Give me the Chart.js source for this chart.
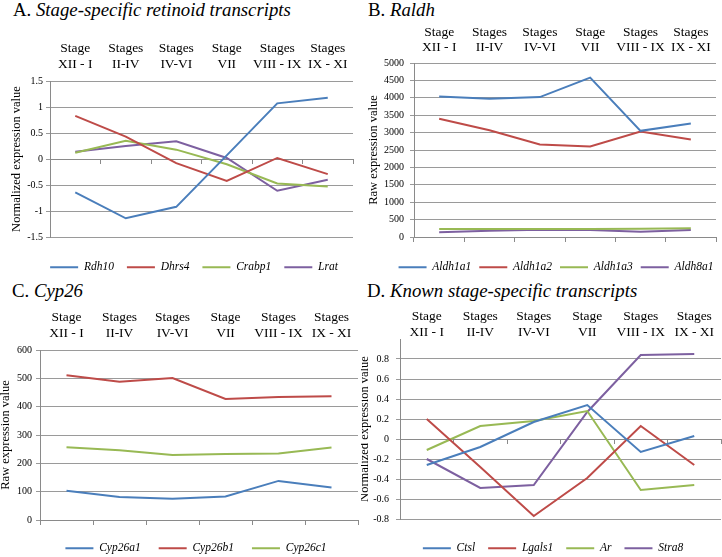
<!DOCTYPE html>
<html>
<head>
<meta charset="utf-8">
<script src="https://cdn.jsdelivr.net/npm/chart.js@4.4.0/dist/chart.umd.min.js"></script>
<style>
html,body{margin:0;padding:0;background:#fff;overflow:hidden;width:722px;height:557px;position:relative;}
canvas{position:absolute;}
.ttl{position:absolute;font-family:"Liberation Serif","Times New Roman",serif;font-size:18.8px;line-height:20px;color:#000;white-space:nowrap;}
.ttl i{font-style:italic;}
.pre{position:absolute;left:-1000px;top:0;font-family:"Liberation Serif";}
</style>
</head>
<body>
<div class="pre">a <i>a</i></div>
<div class="ttl" style="left:13px;top:0px">A. <i>Stage-specific retinoid transcripts</i></div>
<div class="ttl" style="left:368px;top:0px">B. <i>Raldh</i></div>
<div class="ttl" style="left:12px;top:281px">C. <i>Cyp26</i></div>
<div class="ttl" style="left:367px;top:281px">D. <i>Known stage-specific transcripts</i></div>
<canvas id="cA" width="361" height="283" style="left:0px;top:0px"></canvas>
<canvas id="cB" width="361" height="283" style="left:361px;top:0px"></canvas>
<canvas id="cC" width="366" height="294" style="left:0px;top:270px"></canvas>
<canvas id="cD" width="361" height="294" style="left:361px;top:270px"></canvas>
<script>
// ---- categories (shared by all panels) ----
const stageLabels = [["Stage","XII - I"],["Stages","II-IV"],["Stages","IV-VI"],["Stage","VII"],["Stages","VIII - IX"],["Stages","IX - XI"]];

// ---- Panel A: Stage-specific retinoid transcripts (normalized) ----
const namesA = ["Rdh10","Dhrs4","Crabp1","Lrat"];
const rdh10  = [-0.64, -1.14, -0.92, 0.07, 1.07, 1.18];
const dhrs4  = [0.83, 0.43, -0.08, -0.42, 0.02, -0.29];
const crabp1 = [0.12, 0.35, 0.18, -0.10, -0.47, -0.53];
const lrat   = [0.14, 0.25, 0.34, 0.02, -0.61, -0.40];

// ---- Panel B: Raldh (raw) ----
const namesB = ["Aldh1a1","Aldh1a2","Aldh1a3","Aldh8a1"];
const aldh1a1 = [4040, 3970, 4020, 4580, 3050, 3260];
const aldh1a2 = [3400, 3070, 2660, 2600, 3030, 2800];
const aldh1a3 = [230, 230, 230, 230, 240, 250];
const aldh8a1 = [140, 180, 210, 200, 150, 200];

// ---- Panel C: Cyp26 (raw) ----
const namesC = ["Cyp26a1","Cyp26b1","Cyp26c1"];
const cyp26a1 = [103, 81, 75, 83, 138, 115];
const cyp26b1 = [511, 488, 501, 427, 434, 437];
const cyp26c1 = [257, 246, 229, 233, 235, 256];

// ---- Panel D: Known stage-specific transcripts (normalized) ----
const namesD = ["Ctsl","Lgals1","Ar","Stra8"];
const ctsl   = [-0.26, -0.08, 0.17, 0.34, -0.13, 0.03];
const lgals1 = [0.20, -0.28, -0.77, -0.39, 0.13, -0.26];
const ar     = [-0.11, 0.13, 0.18, 0.28, -0.51, -0.46];
const stra8  = [-0.20, -0.49, -0.46, 0.27, 0.84, 0.85];

// ---- y tick settings ----
const yTicksA = {min: -1.5, max: 1.5, step: 0.5};
const yTicksB = {min: 0, max: 5000, step: 500};
const yTicksC = {min: 0, max: 600, step: 100};
const yTicksD = {min: -0.8, max: 1.0, step: 0.2, hideAbove: 0.9};

const palette = ["#4A7EBB", "#BE4B48", "#98B954", "#7D60A0"];
const SERIF = "'Liberation Serif', 'Times New Roman', serif";
const GRID = "#9a9a9a";
const AXIS = "#8a8a8a";
const LEG_FONT = 11.5;
Chart.defaults.color = "#000";
Chart.defaults.font.family = SERIF;

function fmt(v) { return String(Number(Number(v).toFixed(3))); }

function makePanel(id, names, values, yt, yTitle, p) {
  const canvas = document.getElementById(id);
  const W = canvas.width, H = canvas.height;
  const datasets = names.map((n, i) => ({
    label: n, data: values[i],
    borderColor: palette[i], backgroundColor: palette[i],
    borderWidth: 2, pointRadius: 0, pointHoverRadius: 0, tension: 0, fill: false,
    xAxisID: 'x', yAxisID: 'y'
  }));
  // legend height in Chart.js = itemHeight + padding + 10
  const legendTop = H - (LEG_FONT + p.legPad + 10);
  const gapH = legendTop - p.bottom;
  // moves the legend box so that its items are centred on p.legC
  const legendShift = {
    id: 'legendShift',
    afterLayout(chart) {
      const lg = chart.legend;
      if (!lg) return;
      const dx = p.legC - (lg.left + lg.right) / 2;
      lg.left += dx; lg.right += dx;
    }
  };
  return new Chart(canvas, {
    type: 'line',
    data: { labels: stageLabels, datasets },
    plugins: [legendShift],
    options: {
      responsive: false, animation: false, devicePixelRatio: 1,
      events: [],
      layout: { padding: { left: 0, right: W - p.right, top: 0, bottom: 0 } },
      plugins: {
        legend: {
          position: 'bottom',
          labels: {
            font: { family: SERIF, size: LEG_FONT, style: 'italic' }, color: '#000',
            usePointStyle: true, pointStyle: 'line', pointStyleWidth: 28, padding: p.legPad
          }
        },
        tooltip: { enabled: false }
      },
      scales: {
        x: {
          type: 'category', position: 'top', offset: true,
          grid: { display: false, drawTicks: false }, border: { display: false },
          ticks: { font: { family: SERIF, size: 13.5, lineHeight: p.catLH / 13.5 }, color: '#000',
                   padding: p.catPad, maxRotation: 0, minRotation: 0, autoSkip: false },
          afterFit: s => { s.height = p.top; }
        },
        x2: {
          type: 'category', position: { y: 0 }, offset: true,
          grid: { display: true, drawOnChartArea: false, drawTicks: true, tickLength: 4, offset: true, color: AXIS },
          border: { display: true, color: AXIS, width: 1 },
          ticks: { display: false }
        },
        xb: {
          type: 'category', position: 'bottom', offset: true,
          grid: { display: false, drawTicks: false }, border: { display: false },
          ticks: { display: false },
          afterFit: s => { s.height = gapH; }
        },
        y: {
          type: 'linear', position: 'left', min: yt.min, max: yt.max,
          ticks: {
            stepSize: yt.step, font: { family: SERIF, size: 10 }, color: '#000', padding: p.yPad,
            callback: v => (yt.hideAbove !== undefined && v > yt.hideAbove) ? '' : fmt(v)
          },
          grid: {
            color: c => (yt.hideAbove !== undefined && c.tick && c.tick.value > yt.hideAbove) ? 'rgba(0,0,0,0)' : GRID,
            tickLength: 4, drawTicks: true, lineWidth: 1
          },
          border: { display: true, color: AXIS, width: 1 },
          title: { display: true, text: yTitle, font: { family: SERIF, size: 12.5, lineHeight: 1 }, color: '#000',
                   padding: { top: p.titleX - 6.25, bottom: 0 } },
          afterFit: s => { s.width = p.left; }
        }
      }
    }
  });
}

function drawAll() {
  makePanel('cA', namesA, [rdh10, dhrs4, crabp1, lrat], yTicksA, 'Normalized expression value',
    { left: 50, right: 353, top: 81, bottom: 237, catLH: 16, catPad: 9, yPad: 3, titleX: 17, legPad: 13, legC: 194 });
  makePanel('cB', namesB, [aldh1a1, aldh1a2, aldh1a3, aldh8a1], yTicksB, 'Raw expression value',
    { left: 53, right: 355, top: 63, bottom: 237, catLH: 15, catPad: 8.5, yPad: 6, titleX: 13, legPad: 8, legC: 195 });
  makePanel('cC', namesC, [cyp26a1, cyp26b1, cyp26c1], yTicksC, 'Raw expression value',
    { left: 40, right: 358, top: 80, bottom: 250, catLH: 16, catPad: 9, yPad: 4, titleX: 6, legPad: 18, legC: 196 });
  makePanel('cD', namesD, [ctsl, lgals1, ar, stra8], yTicksD, 'Normalized expression value',
    { left: 39, right: 360, top: 69, bottom: 249, catLH: 16, catPad: -1, yPad: 7, titleX: 4, legPad: 13, legC: 192 });
}

let started = false;
function start() { if (started) return; started = true; drawAll(); }
if (document.fonts && document.fonts.load) {
  Promise.all([
    document.fonts.load("12px 'Liberation Serif'"),
    document.fonts.load("italic 12px 'Liberation Serif'")
  ]).then(start, start);
  setTimeout(start, 1500);
} else {
  start();
}
</script>
</body>
</html>
